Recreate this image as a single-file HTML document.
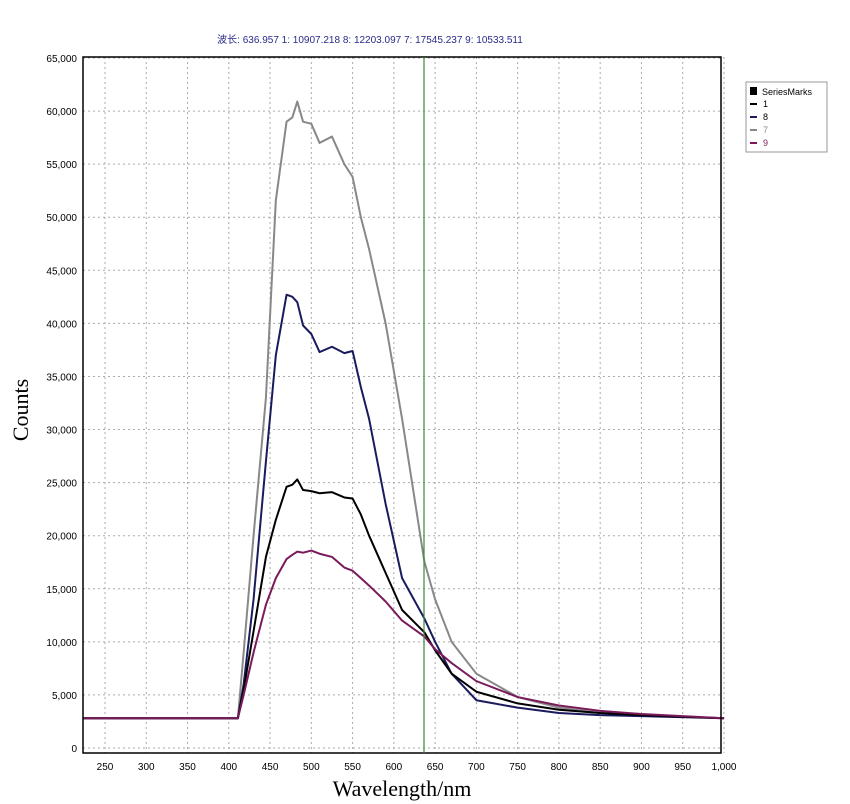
<!DOCTYPE html>
<html><head><meta charset="utf-8"><style>
body{margin:0;background:#fff;}
svg{display:block;font-family:"Liberation Sans","Noto Sans CJK SC",sans-serif;}
</style></head><body>
<svg id="chart" width="850" height="804" viewBox="0 0 850 804">
<text x="370" y="43" text-anchor="middle" font-size="10" fill="#2a2a8a">波长: 636.957  1: 10907.218  8: 12203.097  7: 17545.237  9: 10533.511</text>
<g id="grid"></g>
<g id="series"></g>
<rect x="83" y="57" width="638" height="696" fill="none" stroke="#000" stroke-width="1.5"/>
<line x1="424" x2="424" y1="57" y2="753" stroke="#3a8a3a" stroke-width="1.2"/>
<g id="ticks"></g>
<text transform="translate(28,410) rotate(-90)" text-anchor="middle" font-family="Liberation Serif,serif" font-size="22">Counts</text>
<text x="402" y="796" text-anchor="middle" font-family="Liberation Serif,serif" font-size="22">Wavelength/nm</text>
<g>
<rect x="746" y="82" width="81" height="70" fill="#fff" stroke="#999"/>
<rect x="750" y="87" width="7" height="8" fill="#000"/>
<text x="762" y="95" font-size="9">SeriesMarks</text>
<g><line x1="750" x2="757" y1="104" y2="104" stroke="#000" stroke-width="2"/><text x="763" y="107" font-size="9">1</text></g>
<g><line x1="750" x2="757" y1="117" y2="117" stroke="#1a1a5e" stroke-width="2"/><text x="763" y="120" font-size="9">8</text></g>
<g><line x1="750" x2="757" y1="130" y2="130" stroke="#888" stroke-width="2"/><text x="763" y="133" font-size="9" fill="#888">7</text></g>
<g><line x1="750" x2="757" y1="143" y2="143" stroke="#7a1a5a" stroke-width="2"/><text x="763" y="146" font-size="9" fill="#7a1a5a">9</text></g>
</g>
</svg>
<script>
const xTicks=[250,300,350,400,450,500,550,600,650,700,750,800,850,900,950,1000];
const yTicks=[0,5000,10000,15000,20000,25000,30000,35000,40000,45000,50000,55000,60000,65000];
const wl=[223,400,411,418,430,445,457,470,477,483,490,500,510,525,540,550,560,570,590,610,637,650,670,700,750,800,850,900,1000];
const s7=[2800,2800,2800,9000,20000,33000,51600,59000,59400,60900,59000,58800,57000,57600,55000,53800,50000,47000,40000,31000,17545,14000,10000,7000,4800,3800,3300,3100,2800];
const s8=[2800,2800,2800,6000,14000,27000,37000,42700,42500,42000,39800,39000,37300,37800,37200,37400,34000,31000,23000,16000,12200,10000,7000,4500,3800,3300,3100,3000,2800];
const s1=[2800,2800,2800,5500,11000,18000,21500,24600,24800,25300,24300,24200,24000,24100,23600,23500,22000,20000,16500,13000,10900,9200,7000,5300,4200,3600,3300,3100,2800];
const s9=[2800,2800,2800,5000,9000,13500,16000,17800,18200,18500,18400,18600,18300,18000,17000,16700,16000,15300,13800,12000,10500,9300,8000,6300,4800,4000,3500,3200,2800];
const X=w=>105+(w-250)*0.8253;
const Y=v=>748-v*690/65000;
const NS="http://www.w3.org/2000/svg";
const g=document.getElementById('grid'),t=document.getElementById('ticks'),sg=document.getElementById('series');
xTicks.forEach(w=>{
 const l=document.createElementNS(NS,'line');
 
 
 l.setAttribute('x1',X(w));l.setAttribute('x2',X(w));l.setAttribute('y1',57);l.setAttribute('y2',753);
 l.setAttribute('stroke','#aaa');l.setAttribute('stroke-dasharray','2,3');g.appendChild(l);
 const tx=document.createElementNS(NS,'text');
 
 
 tx.setAttribute('x',X(w));tx.setAttribute('y',770);tx.setAttribute('text-anchor','middle');tx.setAttribute('font-size','10');
 tx.textContent=w>=1000?w.toLocaleString('en-US'):w;t.appendChild(tx);
});
yTicks.forEach(v=>{
 const l=document.createElementNS(NS,'line');
 
 
 l.setAttribute('x1',83);l.setAttribute('x2',721);l.setAttribute('y1',Y(v));l.setAttribute('y2',Y(v));
 l.setAttribute('stroke','#aaa');l.setAttribute('stroke-dasharray','2,3');g.appendChild(l);
 const tx=document.createElementNS(NS,'text');
 
 
 tx.setAttribute('x',77);tx.setAttribute('y',Y(v)+4);tx.setAttribute('text-anchor','end');tx.setAttribute('font-size','10');
 tx.textContent=v.toLocaleString('en-US');t.appendChild(tx);
});
[[s7,'#888','series-7'],[s8,'#1a1a5e','series-8'],[s1,'#000','series-1'],[s9,'#7a1a5a','series-9']].forEach(([s,c,n])=>{
 const p=document.createElementNS(NS,'polyline');
 
 
 p.setAttribute('points',wl.map((w,i)=>X(w)+','+Y(s[i])).join(' '));
 p.setAttribute('fill','none');p.setAttribute('stroke',c);p.setAttribute('stroke-width','2');p.setAttribute('stroke-linejoin','round');
 sg.appendChild(p);
});
</script>
</body></html>
